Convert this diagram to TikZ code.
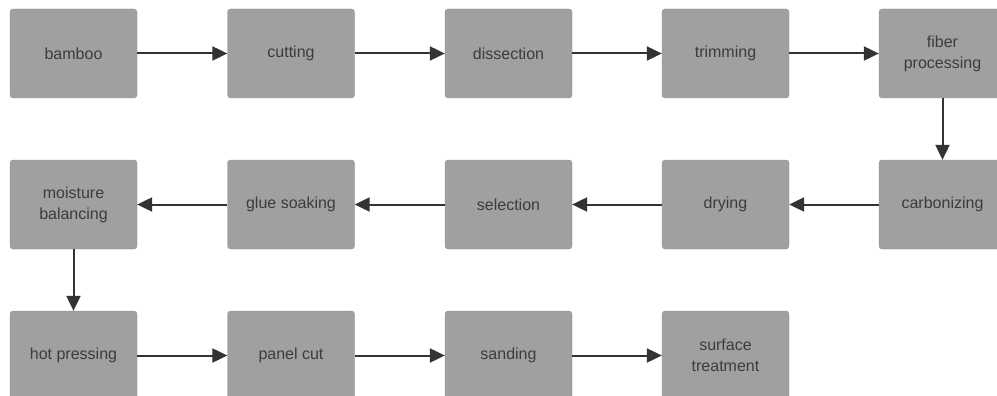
\documentclass[tikz,border=0pt]{standalone}
\usepackage{fontspec}
\setmainfont{Liberation Sans}
\usetikzlibrary{arrows.meta}
\definecolor{boxgray}{HTML}{A0A0A0}
\definecolor{txtgray}{HTML}{3C3C3C}
\definecolor{arrgray}{HTML}{333333}
\begin{document}
\begin{tikzpicture}[x=1pt,y=-1pt,
  stage/.style={fill=boxgray, draw=boxgray!90!black, line width=0.3pt, rounded corners=3pt,
    minimum width=127pt, minimum height=89pt, inner sep=0pt,
    text=txtgray, align=center, font=\fontsize{16}{21}\selectfont},
  flow/.style={draw=arrgray, line width=2pt, -{Triangle[length=15pt,width=14pt]}}]
\useasboundingbox (0,0) rectangle (997,396);
% columns centers: 73.5, 291, 508.5, 725.5, 942.5 ; rows: 53.5, 204.5, 355.5
\node[stage] (a1) at (73.5,53.5) {bamboo};
\node[stage] (a2) at (291,53.5) {cutting};
\node[stage] (a3) at (508.5,53.5) {dissection};
\node[stage] (a4) at (725.5,53.5) {trimming};
\node[stage] (a5) at (942.5,53.5) {fiber\\processing};
\node[stage] (b5) at (942.5,204.5) {carbonizing};
\node[stage] (b4) at (725.5,204.5) {drying};
\node[stage] (b3) at (508.5,204.5) {selection};
\node[stage] (b2) at (291,204.5) {glue soaking};
\node[stage] (b1) at (73.5,204.5) {moisture\\balancing};
\node[stage] (c1) at (73.5,355.5) {hot pressing};
\node[stage] (c2) at (291,355.5) {panel cut};
\node[stage] (c3) at (508.5,355.5) {sanding};
\node[stage] (c4) at (725.5,355.5) {surface\\treatment};
\draw[flow] (a1) -- (a2);
\draw[flow] (a2) -- (a3);
\draw[flow] (a3) -- (a4);
\draw[flow] (a4) -- (a5);
\draw[flow] (a5) -- (b5);
\draw[flow] (b5) -- (b4);
\draw[flow] (b4) -- (b3);
\draw[flow] (b3) -- (b2);
\draw[flow] (b2) -- (b1);
\draw[flow] (b1) -- (c1);
\draw[flow] (c1) -- (c2);
\draw[flow] (c2) -- (c3);
\draw[flow] (c3) -- (c4);
\end{tikzpicture}
\end{document}
